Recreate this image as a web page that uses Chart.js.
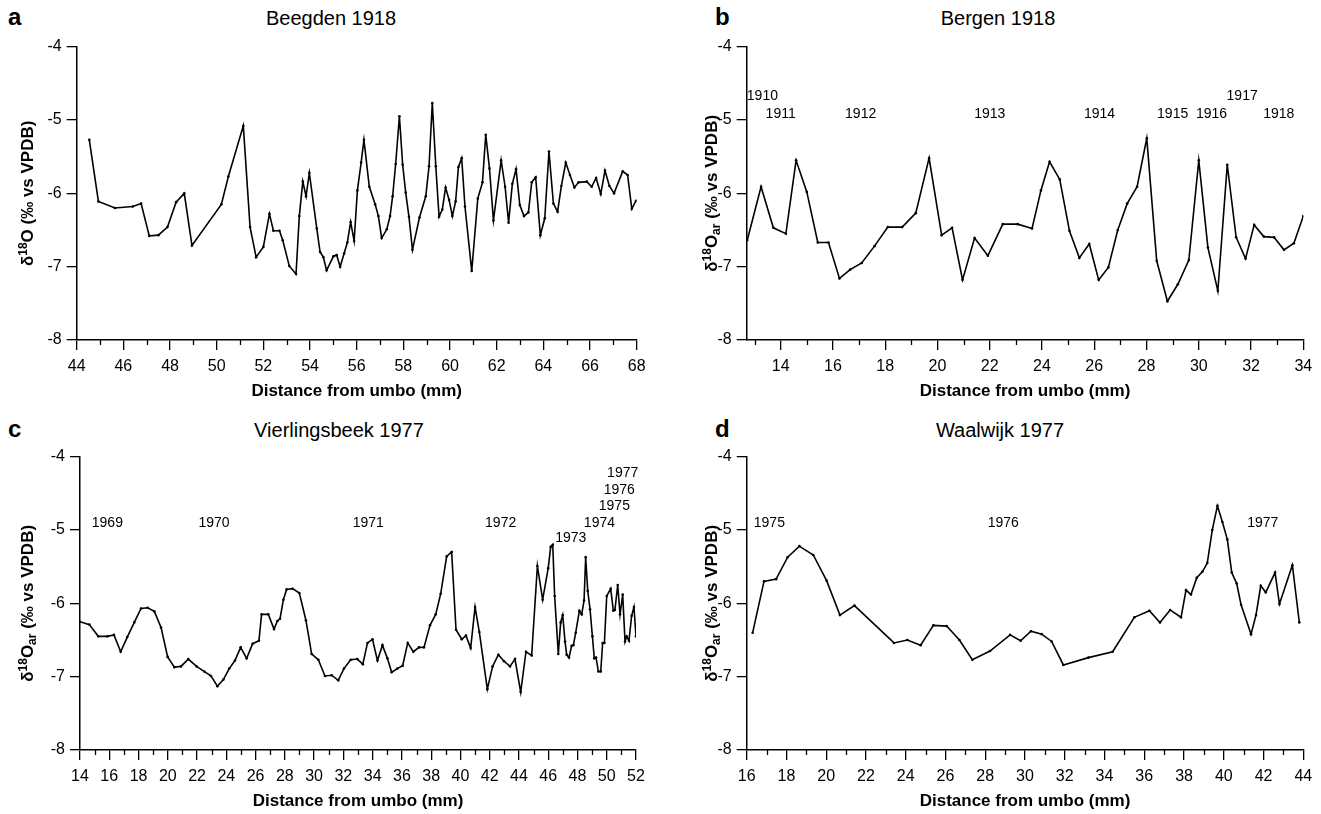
<!DOCTYPE html>
<html>
<head>
<meta charset="utf-8">
<script src="https://cdn.jsdelivr.net/npm/chart.js@4.4.1/dist/chart.umd.min.js"></script>
<style>
  body { margin: 0; background: #fff; width: 1321px; height: 814px; position: relative; overflow: hidden; font-family: 'Liberation Sans', Arial, sans-serif; }
  .panel { position: absolute; }
  .letter { position: absolute; font-weight: bold; font-size: 24px; line-height: 24px; }
  .title { position: absolute; font-size: 20px; line-height: 22px; width: 300px; text-align: center; }
</style>
</head>
<body>
<div class="letter" style="left:8px;top:5px">a</div>
<div class="letter" style="left:715px;top:5px">b</div>
<div class="letter" style="left:8px;top:417px">c</div>
<div class="letter" style="left:715px;top:417px">d</div>
<div class="title" style="left:181px;top:7px">Beegden 1918</div>
<div class="title" style="left:848px;top:7px">Bergen 1918</div>
<div class="title" style="left:189px;top:419px">Vierlingsbeek 1977</div>
<div class="title" style="left:850px;top:419px">Waalwijk 1977</div>

<div class="panel" style="left:0;top:0;width:660px;height:410px"><canvas id="chartA"></canvas></div>
<div class="panel" style="left:670px;top:0;width:651px;height:410px"><canvas id="chartB"></canvas></div>
<div class="panel" style="left:0;top:410px;width:660px;height:404px"><canvas id="chartC"></canvas></div>
<div class="panel" style="left:670px;top:410px;width:651px;height:404px"><canvas id="chartD"></canvas></div>

<script>
// a: Beegden 1918
var beegdenX = [44.54, 44.93, 45.64, 46.40, 46.76, 47.11, 47.50, 47.89, 48.26, 48.61, 48.94, 50.20, 50.50, 51.14, 51.43, 51.69, 52.00, 52.26, 52.43, 52.69,
  52.83, 53.11, 53.40, 53.54, 53.69, 53.83, 53.97, 54.29, 54.43, 54.57, 54.71, 55.00, 55.14, 55.29, 55.46, 55.60, 55.74, 55.89, 56.03, 56.19,
  56.31, 56.54, 56.79, 56.93, 57.07, 57.29, 57.43, 57.54, 57.67, 57.83, 57.97, 58.10, 58.24, 58.39, 58.69, 58.96, 59.10, 59.24, 59.39, 59.53,
  59.67, 59.81, 59.96, 60.10, 60.24, 60.36, 60.50, 60.64, 60.93, 61.19, 61.39, 61.53, 61.69, 61.86, 62.19, 62.36, 62.51, 62.67, 62.83, 62.99,
  63.17, 63.36, 63.50, 63.67, 63.87, 64.06, 64.24, 64.43, 64.61, 64.77, 64.96, 65.14, 65.33, 65.51, 65.86, 66.07, 66.26, 66.46, 66.64, 66.83,
  67.03, 67.40, 67.61, 67.79, 67.97];
var beegdenY = [-5.27, -6.11, -6.20, -6.18, -6.14, -6.58, -6.57, -6.46, -6.12, -6.00, -6.71, -6.15, -5.77, -5.08, -6.46, -6.87, -6.73, -6.28, -6.51, -6.51,
  -6.64, -6.99, -7.10, -6.31, -5.84, -6.04, -5.72, -6.48, -6.80, -6.87, -7.05, -6.86, -6.84, -7.00, -6.82, -6.67, -6.39, -6.65, -5.96, -5.58,
  -5.27, -5.91, -6.15, -6.31, -6.61, -6.49, -6.31, -6.04, -5.60, -4.95, -5.61, -5.99, -6.32, -6.77, -6.33, -6.04, -5.63, -4.77, -5.63, -6.32,
  -6.22, -5.92, -6.09, -6.31, -6.11, -5.64, -5.52, -6.18, -7.06, -6.07, -5.85, -5.20, -5.66, -6.37, -5.55, -5.91, -6.40, -5.87, -5.67, -6.16,
  -6.31, -6.26, -5.85, -5.78, -6.57, -6.34, -5.43, -6.14, -6.25, -5.90, -5.58, -5.75, -5.92, -5.85, -5.84, -5.91, -5.79, -6.01, -5.69, -5.90,
  -6.00, -5.70, -5.75, -6.21, -6.10];

// b: Bergen 1918
var bergenX = [12.72, 13.25, 13.72, 14.20, 14.59, 15.00, 15.42, 15.83, 16.25, 16.66, 17.10, 17.59, 18.10, 18.65, 19.17, 19.68, 20.16, 20.56, 20.96, 21.42,
  21.93, 22.50, 23.07, 23.62, 23.96, 24.29, 24.68, 25.05, 25.43, 25.81, 26.17, 26.54, 26.90, 27.26, 27.64, 28.01, 28.39, 28.80, 29.20, 29.62,
  30.00, 30.35, 30.73, 31.09, 31.43, 31.79, 32.12, 32.49, 32.88, 33.26, 33.64, 34.00];
var bergenY = [-6.64, -5.91, -6.47, -6.55, -5.55, -5.98, -6.67, -6.67, -7.16, -7.04, -6.95, -6.72, -6.46, -6.46, -6.27, -5.52, -6.57, -6.47, -7.18, -6.61,
  -6.85, -6.42, -6.42, -6.48, -5.96, -5.57, -5.81, -6.51, -6.88, -6.69, -7.18, -7.01, -6.50, -6.14, -5.91, -5.25, -6.92, -7.47, -7.24, -6.91,
  -5.55, -6.74, -7.33, -5.61, -6.60, -6.89, -6.43, -6.59, -6.60, -6.77, -6.68, -6.31];
var bergenYears = ['1910', '1911', '1912', '1913', '1914', '1915', '1916', '1917', '1918'];
var bergenYearX = [13.3, 14.0, 17.06, 22.0, 26.2, 29.0, 30.49, 31.66, 33.06];
var bergenYearY = [-4.68, -4.92, -4.92, -4.92, -4.92, -4.92, -4.92, -4.68, -4.92];

// c: Vierlingsbeek 1977
var vierX = [14.00, 14.64, 15.25, 15.87, 16.32, 16.78, 17.23, 17.71, 18.17, 18.62, 19.08, 19.54, 19.99, 20.45, 20.90, 21.40, 21.97, 22.50, 22.95, 23.39,
  23.80, 24.20, 24.59, 24.98, 25.39, 25.80, 26.23, 26.41, 26.87, 27.26, 27.49, 27.67, 27.90, 28.12, 28.53, 28.99, 29.44, 29.83, 30.29, 30.74,
  31.20, 31.65, 32.04, 32.50, 32.96, 33.33, 33.65, 33.99, 34.33, 34.67, 35.01, 35.30, 35.69, 36.05, 36.40, 36.78, 37.17, 37.51, 37.92, 38.31,
  38.65, 39.06, 39.40, 39.70, 40.09, 40.38, 40.70, 41.00, 41.29, 41.84, 42.20, 42.59, 42.98, 43.39, 43.73, 44.12, 44.48, 44.87, 45.26, 45.62,
  46.00, 46.17, 46.31, 46.44, 46.69, 46.85, 46.99, 47.15, 47.26, 47.42, 47.60, 47.72, 47.88, 48.13, 48.29, 48.45, 48.56, 48.70, 48.86, 49.02,
  49.15, 49.27, 49.43, 49.59, 49.72, 49.84, 50.00, 50.27, 50.45, 50.56, 50.75, 50.91, 51.09, 51.25, 51.36, 51.52, 51.70, 51.86, 52.00];
var vierY = [-6.25, -6.29, -6.45, -6.45, -6.43, -6.66, -6.46, -6.26, -6.07, -6.06, -6.11, -6.33, -6.73, -6.87, -6.86, -6.76, -6.86, -6.93, -6.99, -7.13,
  -7.04, -6.89, -6.78, -6.60, -6.75, -6.55, -6.51, -6.15, -6.15, -6.35, -6.24, -6.21, -5.95, -5.81, -5.80, -5.86, -6.23, -6.69, -6.77, -6.99,
  -6.98, -7.05, -6.89, -6.77, -6.76, -6.83, -6.54, -6.49, -6.78, -6.57, -6.75, -6.94, -6.89, -6.85, -6.54, -6.66, -6.60, -6.60, -6.30, -6.15,
  -5.87, -5.36, -5.30, -6.36, -6.49, -6.44, -6.61, -6.05, -6.39, -7.17, -6.86, -6.70, -6.79, -6.86, -6.76, -7.21, -6.66, -6.71, -5.49, -5.95,
  -5.52, -5.23, -5.20, -5.90, -6.69, -6.26, -6.16, -6.52, -6.70, -6.74, -6.58, -6.57, -6.40, -6.10, -6.15, -5.96, -5.37, -5.83, -6.08, -6.45,
  -6.75, -6.74, -6.93, -6.93, -6.54, -6.54, -5.90, -5.80, -6.10, -6.09, -5.75, -6.15, -5.88, -6.52, -6.45, -6.51, -6.17, -6.05, -6.45];
var vierYears = ['1969', '1970', '1971', '1972', '1973', '1974', '1975', '1976', '1977'];
var vierYearX = [15.87, 23.16, 33.7, 42.75, 47.54, 49.5, 50.52, 50.86, 51.09];
var vierYearY = [-4.91, -4.91, -4.91, -4.91, -5.11, -4.90, -4.68, -4.45, -4.22];

// d: Waalwijk 1977
var waalX = [16.30, 16.87, 17.48, 18.06, 18.65, 19.35, 20.02, 20.69, 21.42, 23.41, 24.08, 24.75, 25.39, 26.06, 26.70, 27.35, 28.24, 29.25, 29.78, 30.30,
  30.84, 31.34, 31.93, 33.19, 34.41, 35.50, 36.26, 36.79, 37.30, 37.85, 38.10, 38.35, 38.64, 38.92, 39.17, 39.42, 39.68, 39.93, 40.18, 40.40,
  40.65, 40.87, 41.37, 41.62, 41.86, 42.11, 42.58, 42.80, 43.45, 43.80];
var waalY = [-6.40, -5.70, -5.67, -5.37, -5.22, -5.34, -5.69, -6.16, -6.03, -6.54, -6.50, -6.57, -6.30, -6.31, -6.50, -6.77, -6.65, -6.43, -6.51, -6.38,
  -6.42, -6.52, -6.84, -6.74, -6.66, -6.19, -6.10, -6.26, -6.09, -6.19, -5.82, -5.88, -5.65, -5.57, -5.45, -5.00, -4.67, -4.89, -5.13, -5.58,
  -5.73, -6.02, -6.42, -6.16, -5.76, -5.85, -5.58, -6.01, -5.48, -6.26];
var waalYears = ['1975', '1976', '1977'];
var waalYearX = [17.14, 28.91, 41.96];
var waalYearY = [-4.91, -4.91, -4.91];

var yTicks = [-4, -5, -6, -7, -8];

// y titles: [text, style] pieces, style '' / 'sup' / 'sub'
var titleO = [['δ', ''], ['18', 'sup'], ['O', ''], [' (‰ vs VPDB)', '']];
var titleOar = [['δ', ''], ['18', 'sup'], ['O', ''], ['ar', 'sub'], [' (‰ vs VPDB)', '']];

Chart.defaults.font.family = "'Liberation Sans', Arial, sans-serif";
Chart.defaults.color = '#000';

var FONT = "'Liberation Sans', Arial, sans-serif";

// minor x ticks every 1 mm, year labels and the y title with super/subscripts
var extras = {
    id: 'extras',
    afterDraw: function(chart, args, opts) {
        var ctx = chart.ctx, xs = chart.scales.x, ys = chart.scales.y;
        ctx.save();
        ctx.strokeStyle = '#000';
        ctx.lineWidth = 1.3;
        for (var v = Math.ceil(xs.min); v <= xs.max; v++) {
            if (Math.abs(v % 2) !== 1) continue;
            var px = Math.round(xs.getPixelForValue(v)) + 0.5;
            ctx.beginPath();
            ctx.moveTo(px, xs.top);
            ctx.lineTo(px, xs.top + 5);
            ctx.stroke();
        }
        ctx.fillStyle = '#000';
        if (opts.years) {
            ctx.font = '14px ' + FONT;
            ctx.textAlign = 'center';
            ctx.textBaseline = 'middle';
            for (var i = 0; i < opts.years.length; i++) {
                ctx.fillText(opts.years[i], xs.getPixelForValue(opts.yearX[i]), ys.getPixelForValue(opts.yearY[i]));
            }
        }
        if (opts.ytitle) {
            var big = 'bold 17px ' + FONT, small = 'bold 12px ' + FONT;
            var w = 0;
            opts.ytitle.forEach(function(p) {
                ctx.font = p[1] ? small : big;
                w += ctx.measureText(p[0]).width;
            });
            ctx.translate(opts.ytx, (ys.top + ys.bottom) / 2);
            ctx.rotate(-Math.PI / 2);
            ctx.textAlign = 'left';
            ctx.textBaseline = 'alphabetic';
            var cx = -w / 2;
            opts.ytitle.forEach(function(p) {
                ctx.font = p[1] ? small : big;
                var dy = p[1] === 'sup' ? -6 : (p[1] === 'sub' ? 3 : 0);
                ctx.fillText(p[0], cx, 6 + dy);
                cx += ctx.measureText(p[0]).width;
            });
        }
        ctx.restore();
    }
};

function makeChart(id, xs, ys, xmin, xmax, yTitle, dims, years, yearX, yearY) {
    var pts = xs.map(function(x, i) { return {x: x, y: ys[i]}; });
    return new Chart(document.getElementById(id), {
        type: 'line',
        data: {
            datasets: [{
                data: pts,
                borderColor: '#000',
                borderWidth: 1.6,
                pointRadius: 1.3,
                pointBackgroundColor: '#000',
                pointBorderWidth: 0,
                tension: 0,
                fill: false
            }]
        },
        options: {
            responsive: true,
            maintainAspectRatio: false,
            animation: false,
            layout: { padding: { left: 0, top: dims.top, right: dims.right, bottom: 0 } },
            plugins: {
                legend: { display: false },
                tooltip: { enabled: false },
                extras: { years: years, yearX: yearX, yearY: yearY, ytitle: yTitle, ytx: dims.ytx }
            },
            scales: {
                x: {
                    type: 'linear',
                    min: xmin,
                    max: xmax,
                    afterFit: function(s) { s.height = dims.xh; },
                    ticks: { stepSize: 2, includeBounds: false, padding: 7, font: { size: 16 } },
                    grid: { drawOnChartArea: false, drawTicks: true, tickLength: 10, color: '#000', lineWidth: 1.3 },
                    border: { display: true, color: '#000', width: 1.5 },
                    title: { display: true, text: 'Distance from umbo (mm)', font: { size: 17, weight: 'bold' }, padding: { top: 0, bottom: dims.xtPad } }
                },
                y: {
                    min: -8,
                    max: -4,
                    afterFit: function(s) { s.width = dims.yw; },
                    afterBuildTicks: function(s) { s.ticks = yTicks.map(function(v) { return {value: v}; }); },
                    ticks: { padding: 5, font: { size: 16 } },
                    grid: { drawOnChartArea: false, drawTicks: true, tickLength: 10, color: '#000', lineWidth: 1.3 },
                    border: { display: true, color: '#000', width: 1.5 },
                    title: { display: false }
                }
            }
        },
        plugins: [extras]
    });
}

makeChart('chartA', beegdenX, beegdenY, 44, 68, titleO,
    { top: 46.7, right: 23.3, xh: 70, yw: 76.7, xtPad: 8, ytx: 27 });
makeChart('chartB', bergenX, bergenY, 12.7, 34, titleOar,
    { top: 46.7, right: 17.7, xh: 70, yw: 76.7, xtPad: 8, ytx: 41 }, bergenYears, bergenYearX, bergenYearY);
makeChart('chartC', vierX, vierY, 14, 52, titleOar,
    { top: 46.7, right: 24, xh: 64, yw: 80, xtPad: 2, ytx: 27 }, vierYears, vierYearX, vierYearY);
makeChart('chartD', waalX, waalY, 16, 44, titleOar,
    { top: 46.7, right: 17.7, xh: 64, yw: 76.7, xtPad: 2, ytx: 41 }, waalYears, waalYearX, waalYearY);
</script>
</body>
</html>
